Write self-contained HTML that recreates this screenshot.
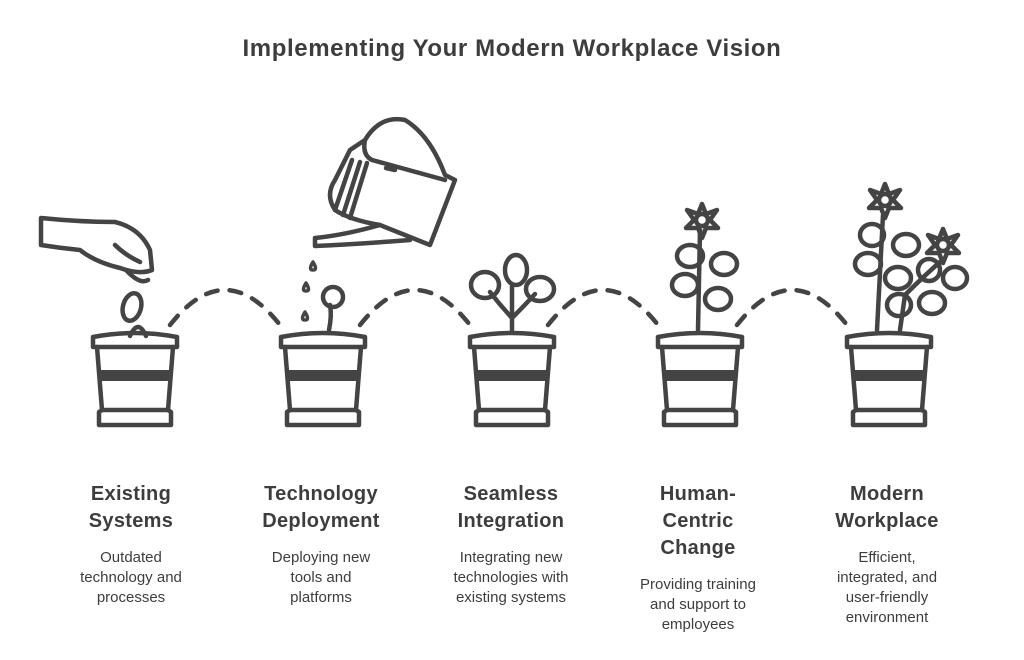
<!DOCTYPE html>
<html><head><meta charset="utf-8"><style>
html,body{margin:0;padding:0;background:#fff}
svg{display:block}
text{font-family:"Liberation Sans","DejaVu Sans",sans-serif;fill:#3d3d3d;text-anchor:middle}
.t{font-weight:bold;font-size:20px;letter-spacing:0.3px}
.d{font-size:15px}
</style></head><body>
<svg width="1024" height="660" viewBox="0 0 1024 660" xmlns="http://www.w3.org/2000/svg">
<defs>
<g id="pot" fill="none" stroke="#444" stroke-width="4.5" stroke-linejoin="round" stroke-linecap="round">
<path d="M-42,0 Q0,-8 42,0 L42,10 L-42,10 Z"/>
<path d="M-38,10 L-33,73 L33,73 L38,10"/>
<rect x="-36" y="34" width="72" height="9" fill="#444" stroke-width="2"/>
<path d="M-33,73 L-36,75 L-36,88 L36,88 L36,75 L33,73"/>
</g>
</defs>
<text x="512" y="56" style="font-weight:bold;font-size:24px;letter-spacing:0.6px">Implementing Your Modern Workplace Vision</text>

<use href="#pot" x="135" y="337"/>
<use href="#pot" x="323" y="337"/>
<use href="#pot" x="512" y="337"/>
<use href="#pot" x="700" y="337"/>
<use href="#pot" x="889" y="337"/>

<g fill="none" stroke="#444" stroke-width="4.5" stroke-dasharray="12 12" stroke-linecap="round">
<path d="M170,325 Q225,255 280,325"/>
<path d="M360,325 Q415,255 470,325"/>
<path d="M548,325 Q603,255 658,325"/>
<path d="M737,325 Q792,255 847,325"/>
</g>

<g fill="none" stroke="#444" stroke-width="4.5" stroke-linejoin="round" stroke-linecap="round">
<path d="M41,218 Q80,222 115,222 Q140,228 150,250 L152,270 Q140,275 120,268 Q95,262 80,250 Q60,248 41,245 Z"/>
<path d="M115,245 Q125,255 140,262"/>
<path d="M126,270 Q140,285 148,280"/>
<ellipse cx="132" cy="307" rx="9" ry="14" transform="rotate(15 132 307)"/>
<path d="M130,336 Q138,318 146,336"/>
<path d="M365,140 Q380,115 405,120 Q430,135 445,175 L455,180 L430,245 L380,225 Q350,220 335,210 Q325,195 335,180 L350,150 Z"/>
<path d="M365,140 Q362,155 372,160 L445,180"/>
<path d="M352,160 L335,210 M360,162 L343,215 M367,163 L350,218"/>
<path d="M386,168 L395,170"/>
<path d="M380,225 Q345,235 315,238 L315,246 Q360,244 410,240"/>
<path d="M313,262 q-5,8 0,8 q5,0 0,-8 Z M306,283 q-5,8 0,8 q5,0 0,-8 Z M305,312 q-5,8 0,8 q5,0 0,-8 Z" stroke-width="3.5"/>
<path d="M329,330 Q332,315 330,305"/>
<circle cx="333" cy="297" r="10"/>
<path d="M512,330 L512,285 M512,318 Q500,305 490,292 M512,318 Q525,305 535,294"/>
<ellipse cx="516" cy="270" rx="11" ry="15"/>
<ellipse cx="485" cy="285" rx="14" ry="13"/>
<ellipse cx="540" cy="289" rx="14" ry="12"/>
<path d="M698,330 L700,230"/>
<circle cx="702" cy="220" r="6"/>
<path d="M702,204 L706,214 L717,210 L710,220 L718,228 L706,228 L702,238 L698,228 L686,228 L694,220 L687,210 L698,214 Z"/>
<ellipse cx="690" cy="256" rx="13" ry="11"/>
<ellipse cx="724" cy="264" rx="13" ry="11"/>
<ellipse cx="685" cy="285" rx="13" ry="11"/>
<ellipse cx="718" cy="299" rx="13" ry="11"/>
<path d="M877,330 L883,215 M900,330 L905,295 Q925,275 940,262"/>
<circle cx="885" cy="200" r="6"/>
<path d="M885,184 L889,194 L900,190 L893,200 L901,208 L889,208 L885,218 L881,208 L869,208 L877,200 L870,190 L881,194 Z"/>
<circle cx="943" cy="245" r="6"/>
<path d="M943,229 L947,239 L958,235 L951,245 L959,253 L947,253 L943,263 L939,253 L927,253 L935,245 L928,235 L939,239 Z"/>
<ellipse cx="872" cy="235" rx="12" ry="11"/>
<ellipse cx="906" cy="245" rx="13" ry="11"/>
<ellipse cx="868" cy="264" rx="13" ry="11"/>
<ellipse cx="898" cy="278" rx="13" ry="11"/>
<ellipse cx="929" cy="270" rx="11" ry="11"/>
<ellipse cx="955" cy="278" rx="12" ry="11"/>
<ellipse cx="899" cy="305" rx="12" ry="11"/>
<ellipse cx="932" cy="303" rx="13" ry="11"/>
</g>

<text class="t" x="131" y="500">Existing</text>
<text class="t" x="131" y="527">Systems</text>
<text class="d" x="131" y="562">Outdated</text>
<text class="d" x="131" y="582">technology and</text>
<text class="d" x="131" y="602">processes</text>

<text class="t" x="321" y="500">Technology</text>
<text class="t" x="321" y="527">Deployment</text>
<text class="d" x="321" y="562">Deploying new</text>
<text class="d" x="321" y="582">tools and</text>
<text class="d" x="321" y="602">platforms</text>

<text class="t" x="511" y="500">Seamless</text>
<text class="t" x="511" y="527">Integration</text>
<text class="d" x="511" y="562">Integrating new</text>
<text class="d" x="511" y="582">technologies with</text>
<text class="d" x="511" y="602">existing systems</text>

<text class="t" x="698" y="500">Human-</text>
<text class="t" x="698" y="527">Centric</text>
<text class="t" x="698" y="554">Change</text>
<text class="d" x="698" y="589">Providing training</text>
<text class="d" x="698" y="609">and support to</text>
<text class="d" x="698" y="629">employees</text>

<text class="t" x="887" y="500">Modern</text>
<text class="t" x="887" y="527">Workplace</text>
<text class="d" x="887" y="562">Efficient,</text>
<text class="d" x="887" y="582">integrated, and</text>
<text class="d" x="887" y="602">user-friendly</text>
<text class="d" x="887" y="622">environment</text>
</svg>
</body></html>
